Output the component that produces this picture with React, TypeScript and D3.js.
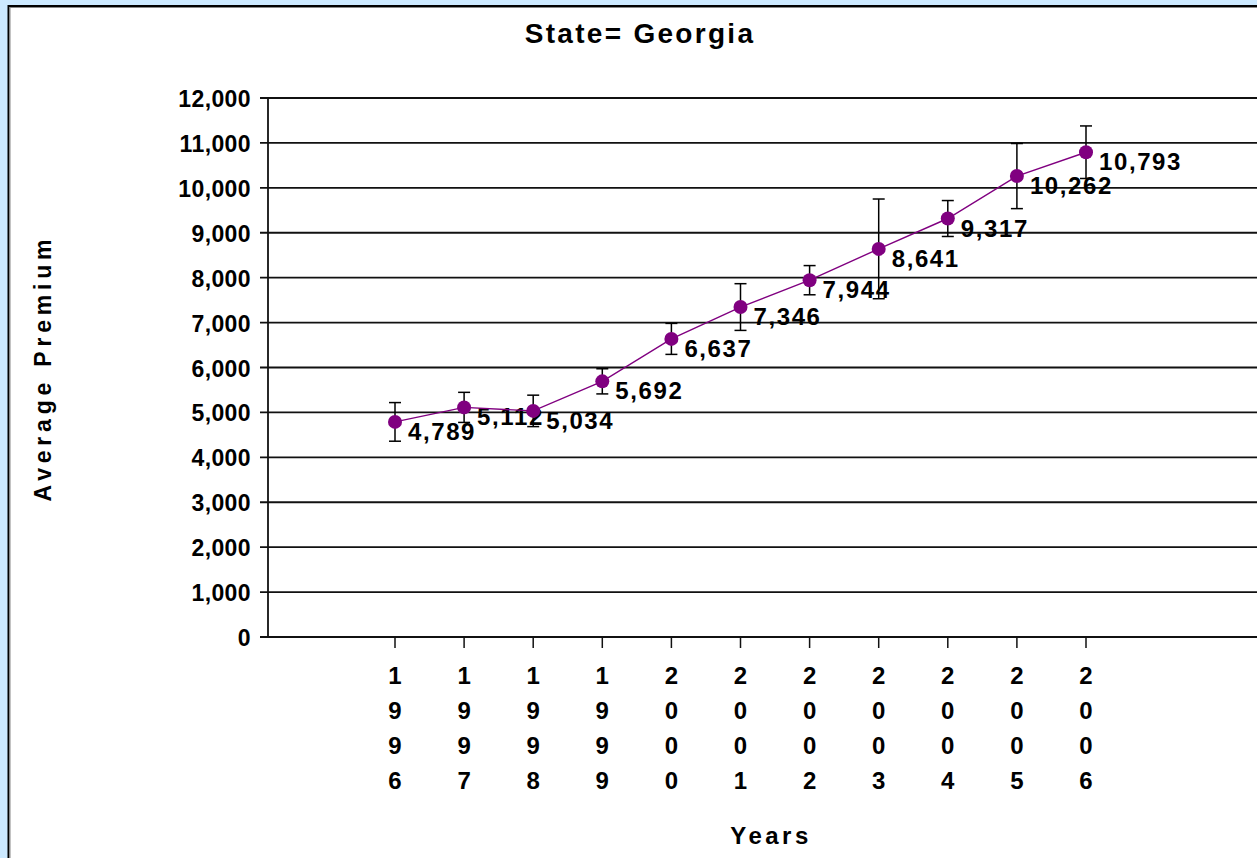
import React from 'react';
import * as d3 from 'd3';

const years = ['1996', '1997', '1998', '1999', '2000', '2001', '2002', '2003', '2004', '2005', '2006'];
const premiums = [4789, 5112, 5034, 5692, 6637, 7346, 7944, 8641, 9317, 10262, 10793];
const errors = [430, 335, 350, 280, 345, 520, 325, 1110, 400, 725, 585];
const yTicks = [0, 1000, 2000, 3000, 4000, 5000, 6000, 7000, 8000, 9000, 10000, 11000, 12000];

const FONT = '"Liberation Sans", Arial, Helvetica, sans-serif';
const PURPLE = '#800080';

export default function App() {
  const W = 1257;
  const H = 858;
  const plotLeft = 268;
  const x = d3.scaleLinear().domain([0, years.length - 1]).range([395, 1086]);
  const y = d3.scaleLinear().domain([0, 12000]).range([637, 98]);
  const fmt = d3.format(',');
  const line = d3
    .line<number>()
    .x((_, i) => x(i))
    .y((d) => y(d));

  return (
    <svg
      width={W}
      height={H}
      style={{ position: 'absolute', left: 0, top: 0, display: 'block' }}
      fontFamily={FONT}
    >
      <rect x={0} y={0} width={W} height={H} fill="#cce9ff" />
      <rect x={8} y={5} width={W} height={H} fill="#ffffff" />
      <line x1={8.5} y1={5} x2={8.5} y2={H} stroke="#000" strokeWidth={2} />
      <line x1={8} y1={6} x2={W} y2={6} stroke="#000" strokeWidth={2} />
      <line x1={10} y1={7} x2={10} y2={H} stroke="#888" strokeWidth={1} />
      <line x1={10} y1={7.5} x2={W} y2={7.5} stroke="#888" strokeWidth={1} />

      <text x={640} y={43} textAnchor="middle" fontSize={28} fontWeight="bold" letterSpacing={2.3} fill="#000">
        State= Georgia
      </text>

      {/* gridlines and y ticks */}
      {yTicks.map((t) => (
        <g key={t}>
          <line x1={plotLeft - 8} x2={W} y1={y(t)} y2={y(t)} stroke="#111" strokeWidth={1.8} />
          <text x={251} y={y(t) + 9} textAnchor="end" fontSize={23} fontWeight="bold" letterSpacing={0.4} fill="#000">
            {fmt(t)}
          </text>
        </g>
      ))}
      <line x1={plotLeft} x2={plotLeft} y1={y(12000) - 1} y2={y(0)} stroke="#111" strokeWidth={1.8} />

      {/* x ticks and stacked labels */}
      {years.map((yr, i) => (
        <g key={yr}>
          <line x1={x(i)} x2={x(i)} y1={y(0)} y2={y(0) + 11} stroke="#111" strokeWidth={1.5} />
          {yr.split('').map((ch, j) => (
            <text
              key={j}
              x={x(i)}
              y={y(0) + 47 + j * 35}
              textAnchor="middle"
              fontSize={24}
              fontWeight="bold"
              fill="#000"
            >
              {ch}
            </text>
          ))}
        </g>
      ))}

      {/* axis titles */}
      <text
        transform={`translate(51, 368) rotate(-90)`}
        textAnchor="middle"
        fontSize={23}
        fontWeight="bold"
        letterSpacing={4.8}
        fill="#000"
      >
        Average Premium
      </text>
      <text x={771} y={844} textAnchor="middle" fontSize={24} fontWeight="bold" letterSpacing={3.5} fill="#000">
        Years
      </text>

      {/* value labels */}
      {premiums.map((v, i) => (
        <text
          key={`l${i}`}
          x={x(i) + 13}
          y={y(v) + 18}
          fontSize={24}
          fontWeight="bold"
          letterSpacing={1.6}
          fill="#000"
        >
          {fmt(v)}
        </text>
      ))}

      {/* error bars */}
      {premiums.map((v, i) => (
        <g key={`e${i}`} stroke="#000" strokeWidth={1.5}>
          <line x1={x(i)} x2={x(i)} y1={y(v + errors[i])} y2={y(v - errors[i])} />
          <line x1={x(i) - 6} x2={x(i) + 6} y1={y(v + errors[i])} y2={y(v + errors[i])} />
          <line x1={x(i) - 6} x2={x(i) + 6} y1={y(v - errors[i])} y2={y(v - errors[i])} />
        </g>
      ))}

      <path d={line(premiums) || ''} fill="none" stroke={PURPLE} strokeWidth={1.4} />
      {premiums.map((v, i) => (
        <circle key={`p${i}`} cx={x(i)} cy={y(v)} r={7} fill={PURPLE} />
      ))}
    </svg>
  );
}
